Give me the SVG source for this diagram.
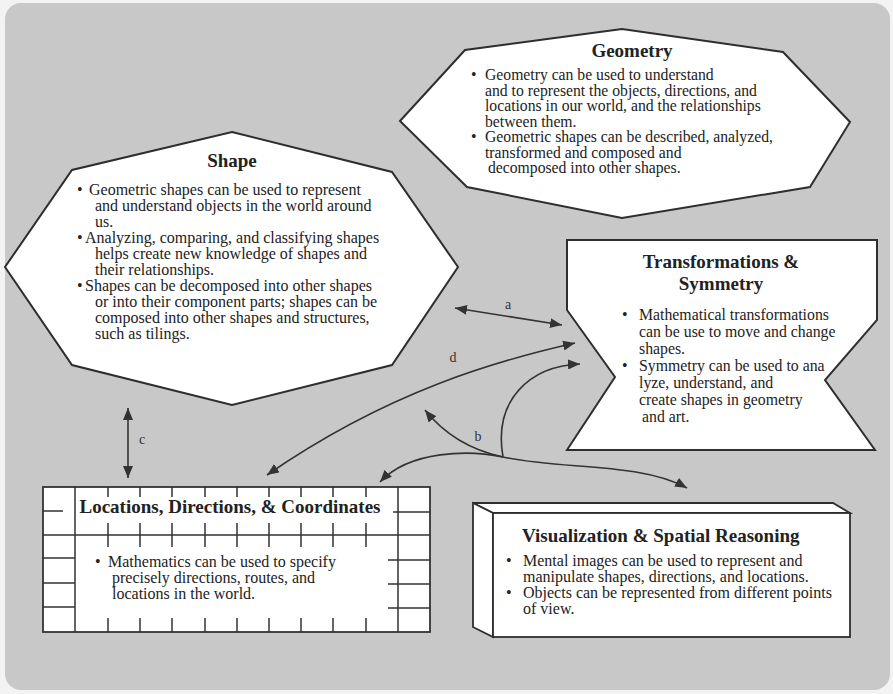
<svg xmlns="http://www.w3.org/2000/svg" width="893" height="694" viewBox="0 0 893 694">
<defs>
<marker id="ah" viewBox="0 0 12 10" refX="12" refY="5" markerWidth="12" markerHeight="10" markerUnits="userSpaceOnUse" orient="auto-start-reverse">
<path d="M0,0 L12,5 L0,10 Z" fill="#333"/>
</marker>
<style>
.shp{fill:#fff;stroke:#2e2e2e;stroke-width:2;stroke-linejoin:miter}
.grid{stroke:#333;stroke-width:1.5;fill:none}
.t{font-family:"Liberation Serif","Times New Roman",serif;fill:#222;font-size:16px}
.tg{font-size:15.7px}
.tt{font-size:15.8px}
.h{font-family:"Liberation Serif","Times New Roman",serif;fill:#222;font-weight:bold;font-size:19px}
.lbl{font-family:"Liberation Serif","Times New Roman",serif;fill:#333;font-size:14px}
.con{fill:none;stroke:#333;stroke-width:1.6}
</style>
</defs>
<rect x="0" y="0" width="893" height="694" fill="#f3f3f3"/>
<rect x="5" y="3" width="885" height="687" rx="16" ry="16" fill="#c8c8c8"/>

<g id="geometry">
<polygon class="shp" points="400,121 465,50 622,29 783,52 850,122 810,187 622,218 467,187"/>
<text class="h" x="632" y="57" text-anchor="middle">Geometry</text>
<text class="t tg" x="471" y="80">•</text>
<text class="t tg" x="485" y="80">Geometry can be used to understand</text>
<text class="t tg" x="485" y="95.5">and to represent the objects, directions, and</text>
<text class="t tg" x="485" y="111">locations in our world, and the relationships</text>
<text class="t tg" x="485" y="126.5">between them.</text>
<text class="t tg" x="471" y="142">•</text>
<text class="t tg" x="485" y="142">Geometric shapes can be described, analyzed,</text>
<text class="t tg" x="485" y="157.5">transformed and composed and</text>
<text class="t tg" x="488" y="173">decomposed into other shapes.</text>
</g>

<g id="shape">
<polygon class="shp" points="232,132 392,172 458,267 392,365 232,405 72,365 5,267 72,170"/>
<text class="h" x="232" y="167" text-anchor="middle">Shape</text>
<text class="t" x="77" y="195">•</text>
<text class="t" x="89" y="195">Geometric shapes can be used to represent</text>
<text class="t" x="95" y="211">and understand objects in the world around</text>
<text class="t" x="95" y="227">us.</text>
<text class="t" x="77" y="243">•</text>
<text class="t" x="85" y="243">Analyzing, comparing, and classifying shapes</text>
<text class="t" x="95" y="259">helps create new knowledge of shapes and</text>
<text class="t" x="95" y="275">their relationships.</text>
<text class="t" x="77" y="291">•</text>
<text class="t" x="85" y="291">Shapes can be decomposed into other shapes</text>
<text class="t" x="95" y="307">or into their component parts; shapes can be</text>
<text class="t" x="95" y="323">composed into other shapes and structures,</text>
<text class="t" x="95" y="339">such as tilings.</text>
</g>

<g id="transformations">
<polygon class="shp" points="567,240 877,240 877,320 825,380 875,450 567,450 615,377 567,310"/>
<text class="h" x="721" y="268" text-anchor="middle">Transformations &amp;</text>
<text class="h" x="721" y="290" text-anchor="middle">Symmetry</text>
<text class="t tt" x="622" y="320">•</text>
<text class="t tt" x="639" y="320">Mathematical transformations</text>
<text class="t tt" x="639" y="337">can be use to move and change</text>
<text class="t tt" x="639" y="354">shapes.</text>
<text class="t tt" x="622" y="371">•</text>
<text class="t tt" x="639" y="371">Symmetry can be used to ana</text>
<text class="t tt" x="639" y="388">lyze, understand, and</text>
<text class="t tt" x="639" y="405">create shapes in geometry</text>
<text class="t tt" x="642" y="422">and art.</text>
</g>

<g id="locations">
<rect x="43" y="487" width="387" height="145" fill="#fff" stroke="#333" stroke-width="1.8"/>
<path class="grid" d="M75,487V632 M398,487V632 M43,535H430
M108,487V497 M140,487V497 M172,487V497 M205,487V497 M237,487V497 M269,487V497 M301,487V497 M333,487V497 M366,487V497
M108,523V547 M140,523V547 M172,523V547 M205,523V547 M237,523V547 M269,523V547 M301,523V547 M333,523V547 M366,523V547
M108,618V632 M140,618V632 M172,618V632 M205,618V632 M237,618V632 M269,618V632 M301,618V632 M333,618V632 M366,618V632
M43,511H63 M43,558H75 M43,583H75 M43,607H75
M393,512H430 M388,560H430 M388,584H430 M388,608H430"/>
<text class="h" x="230" y="513" text-anchor="middle">Locations, Directions, &amp; Coordinates</text>
<text class="t" x="95" y="567">•</text>
<text class="t" x="108" y="567">Mathematics can be used to specify</text>
<text class="t" x="112" y="583">precisely directions, routes, and</text>
<text class="t" x="112" y="599">locations in the world.</text>
</g>

<g id="visualization">
<polygon class="shp" points="473,503 833,503 850,513 493,513" style="stroke-width:1.8"/>
<polygon class="shp" points="473,503 493,513 493,637 473,627" style="stroke-width:1.8"/>
<rect class="shp" x="493" y="513" width="357" height="124" style="stroke-width:1.8"/>
<text class="h" x="522" y="542">Visualization &amp; Spatial Reasoning</text>
<text class="t" x="506" y="566">•</text>
<text class="t" x="523" y="566">Mental images can be used to represent and</text>
<text class="t" x="523" y="582">manipulate shapes, directions, and locations.</text>
<text class="t" x="506" y="598">•</text>
<text class="t" x="523" y="598">Objects can be represented from different points</text>
<text class="t" x="523" y="614">of view.</text>
</g>

<g id="connectors">
<line class="con" x1="455" y1="308" x2="562" y2="325" marker-start="url(#ah)" marker-end="url(#ah)"/>
<line class="con" x1="128" y1="408" x2="128" y2="478" marker-start="url(#ah)" marker-end="url(#ah)"/>
<path class="con" d="M575,343 C500,360 390,390 267,475" marker-start="url(#ah)" marker-end="url(#ah)"/>
<path class="con" d="M503,457 C493,400 530,366 580,364" marker-end="url(#ah)"/>
<path class="con" d="M503,457 C470,450 445,435 425,410" marker-end="url(#ah)"/>
<path class="con" d="M503,457 C470,450 410,450 380,482" marker-end="url(#ah)"/>
<path class="con" d="M503,457 C560,470 640,462 687,488" marker-end="url(#ah)"/>
<text class="lbl" x="508" y="309" text-anchor="middle">a</text>
<text class="lbl" x="453" y="362" text-anchor="middle">d</text>
<text class="lbl" x="478" y="441" text-anchor="middle">b</text>
<text class="lbl" x="142" y="444" text-anchor="middle">c</text>
</g>
</svg>
